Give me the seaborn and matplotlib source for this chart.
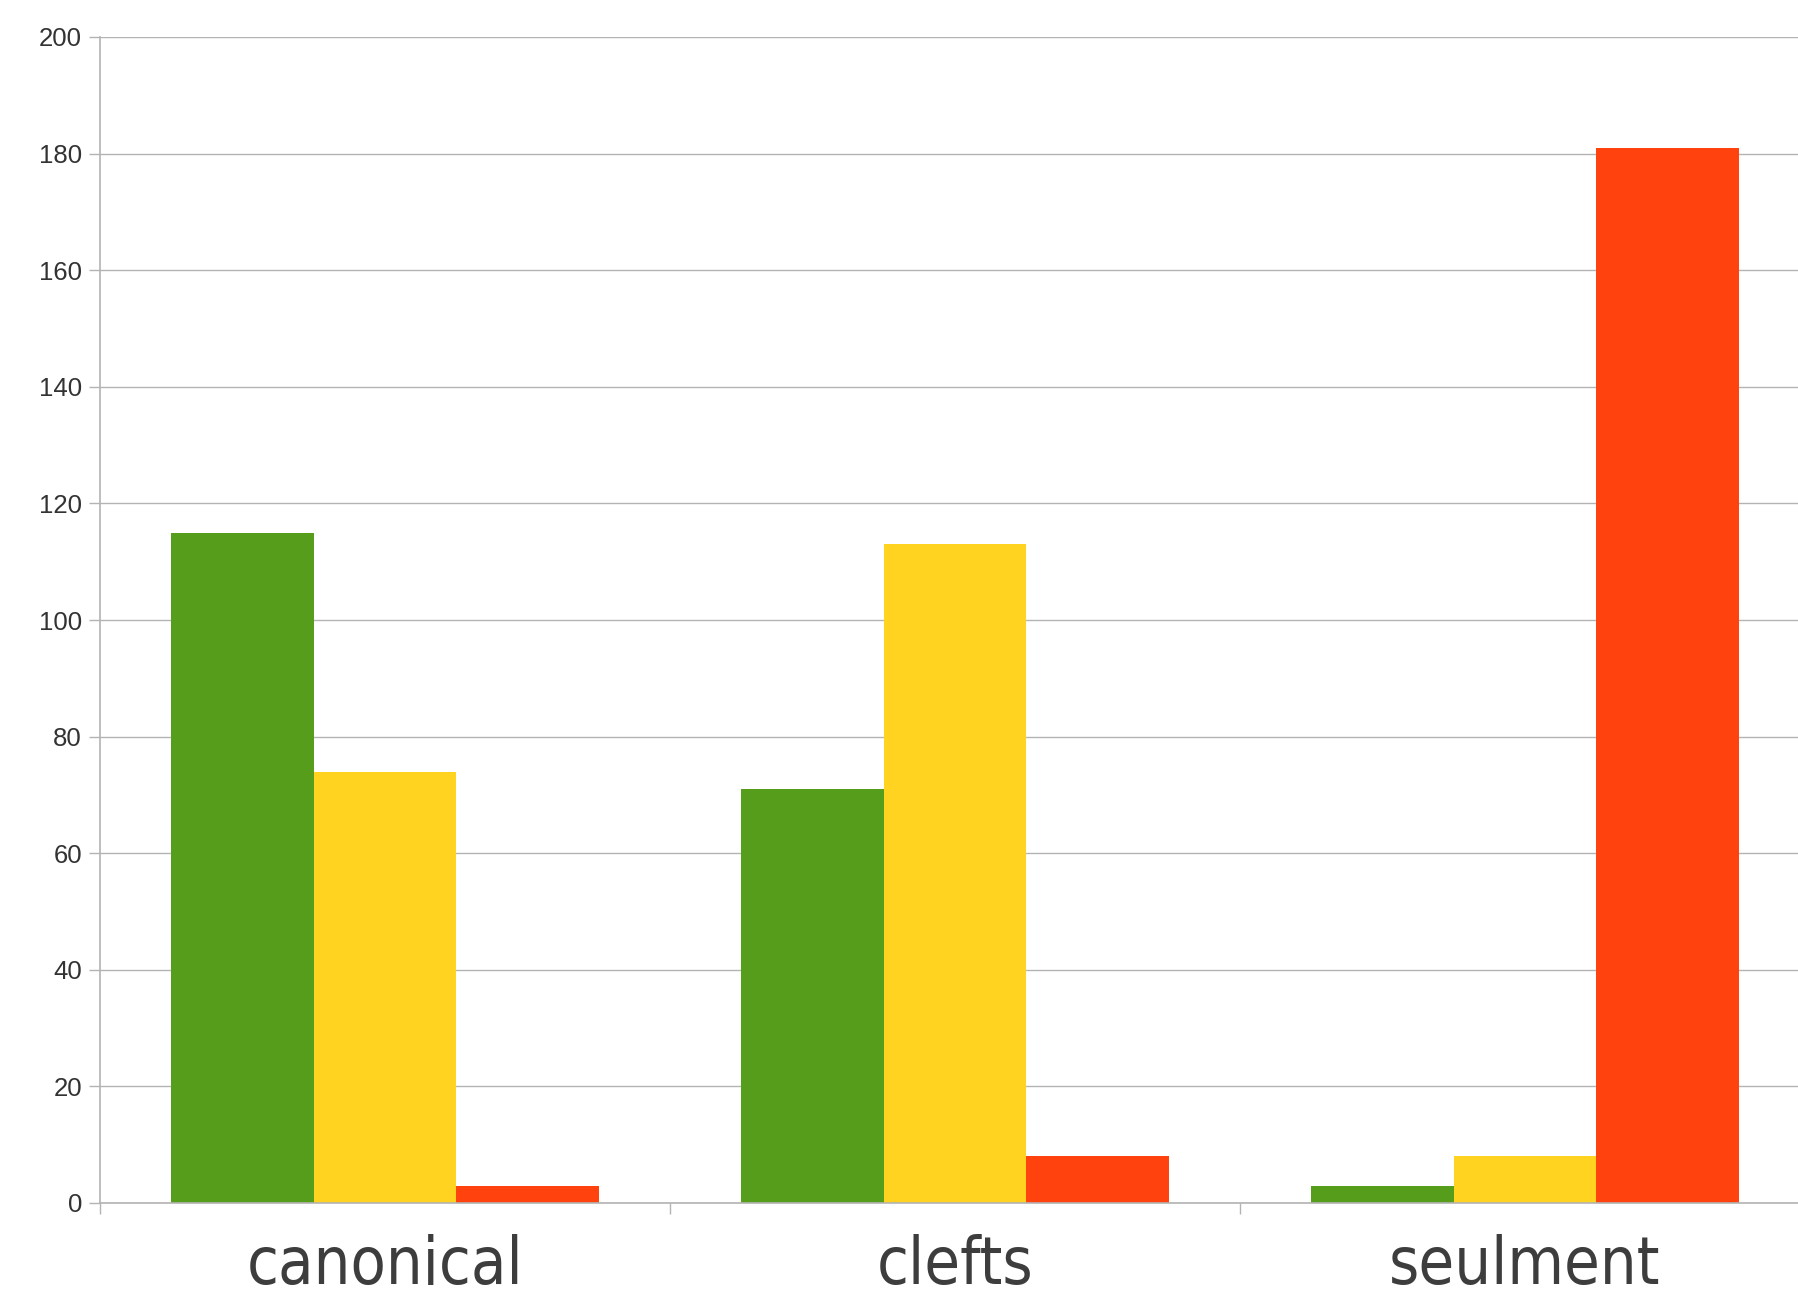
import matplotlib
matplotlib.use("Agg")
import matplotlib.pyplot as plt
from matplotlib.ticker import FixedLocator
import seaborn as sns
import pandas as pd

categories = ["canonical", "clefts", "seulment"]
series_names = ["A", "B", "C"]
series_a = [115, 71, 3]
series_b = [74, 113, 8]
series_c = [3, 8, 181]
colors = ["#579D1C", "#FFD320", "#FF420E"]
y_ticks = [0, 20, 40, 60, 80, 100, 120, 140, 160, 180, 200]

rows = []
for name, vals in zip(series_names, [series_a, series_b, series_c]):
    for cat, v in zip(categories, vals):
        rows.append({"category": cat, "series": name, "value": v})
df = pd.DataFrame(rows)

sns.set_theme(style="white")
plt.rcParams["font.family"] = ["Liberation Sans", "DejaVu Sans"]

W, H = 1799, 1297
fig = plt.figure(figsize=(W / 100, H / 100), dpi=100)
ax = fig.add_axes([100 / W, (H - 1203) / H, 1710 / W, (1203 - 37) / H])

sns.barplot(data=df, x="category", y="value", hue="series",
            order=categories, hue_order=series_names, palette=colors,
            saturation=1, width=0.75, gap=0, linewidth=0, legend=False, ax=ax)

grid_color = "#b3b3b3"
ax.set_xlim(-0.5, 2.5)
ax.set_ylim(0, 200)
ax.set_yticks(y_ticks)
ax.yaxis.grid(True, color=grid_color, linewidth=1.0)
ax.set_axisbelow(True)
ax.set_xlabel("")
ax.set_ylabel("")

for side in ["top", "right"]:
    ax.spines[side].set_visible(False)
for side in ["left", "bottom"]:
    ax.spines[side].set_color(grid_color)
    ax.spines[side].set_linewidth(1.2)

ax.tick_params(axis="y", which="major", direction="out", length=8,
               width=1.0, color=grid_color, pad=5, labelsize=18.5,
               labelcolor="#333333", left=True)
ax.xaxis.set_minor_locator(FixedLocator([-0.5, 0.5, 1.5, 2.5]))
ax.tick_params(axis="x", which="minor", direction="out", length=8,
               width=1.0, color=grid_color, bottom=True)
ax.tick_params(axis="x", which="major", length=0, pad=22)
for lbl in ax.get_xticklabels():
    lbl.set_fontfamily(["DejaVu Sans"])
    lbl.set_fontstretch("condensed")
    lbl.set_fontsize(46.5)
    lbl.set_color("#3d3d3d")

fig.savefig("out.png", dpi=100, facecolor="white")
